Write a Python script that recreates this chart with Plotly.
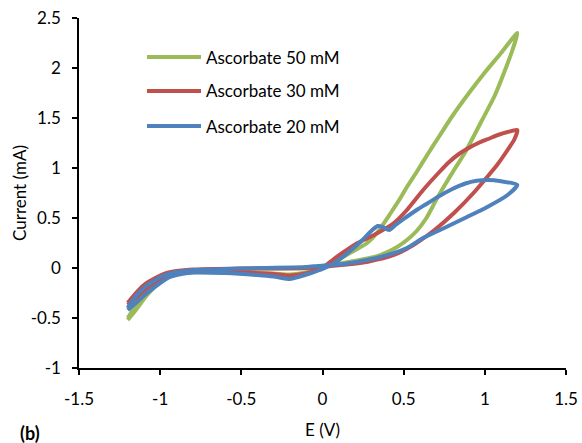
import plotly.graph_objects as go

# ---------------- data ----------------
names = ["Ascorbate 50 mM", "Ascorbate 30 mM", "Ascorbate 20 mM"]
colors = ["#9BBB59", "#C0504D", "#4F81BD"]

# Ascorbate 50 mM : closed loop (E in V, I in mA)
E_50 = [-1.2, -1.15, -1.08, -1.0, -0.93, -0.85, -0.7, -0.5, -0.3, -0.2, -0.12, -0.05, 0.0,
        0.07, 0.17, 0.275, 0.34, 0.42, 0.48, 0.52, 0.58, 0.645, 0.72, 0.8, 0.9, 1.0, 1.1, 1.2,
        1.17, 1.12, 1.06, 0.98, 0.88, 0.81, 0.75, 0.7, 0.64, 0.58, 0.52, 0.46, 0.4, 0.32, 0.17, 0.05,
        -0.1, -0.4, -0.7, -0.85, -0.93, -1.0, -1.07, -1.13, -1.2]
I_50 = [-0.52, -0.42, -0.27, -0.14, -0.07, -0.045, -0.04, -0.045, -0.055, -0.065, -0.05, -0.02, 0.0,
        0.06, 0.15, 0.25, 0.36, 0.55, 0.70, 0.81, 0.96, 1.13, 1.32, 1.52, 1.745, 1.955, 2.15, 2.35,
        2.18, 1.96, 1.72, 1.47, 1.16, 0.98, 0.82, 0.68, 0.5, 0.37, 0.28, 0.21, 0.16, 0.11, 0.063, 0.03,
        0.0, -0.005, -0.015, -0.03, -0.06, -0.13, -0.22, -0.33, -0.5]

# Ascorbate 30 mM
E_30 = [-1.2, -1.15, -1.08, -1.0, -0.93, -0.85, -0.7, -0.5, -0.3, -0.2, -0.12, -0.05, 0.0,
        0.07, 0.14, 0.21, 0.28, 0.34, 0.44, 0.52, 0.62, 0.72, 0.78, 0.84, 0.9, 0.96, 1.02, 1.08, 1.14, 1.2,
        1.18, 1.14, 1.08, 1.035, 0.93, 0.81, 0.69, 0.56, 0.44, 0.28, 0.15, 0.05,
        -0.1, -0.5, -0.8, -0.9, -0.96, -1.03, -1.1, -1.16, -1.2]
I_30 = [-0.37, -0.3, -0.2, -0.11, -0.06, -0.04, -0.035, -0.045, -0.06, -0.075, -0.06, -0.03, 0.0,
        0.09, 0.17, 0.245, 0.3, 0.35, 0.45, 0.58, 0.78, 0.96, 1.06, 1.14, 1.2, 1.25, 1.29, 1.33, 1.36, 1.38,
        1.28, 1.18, 1.04, 0.95, 0.75, 0.55, 0.38, 0.23, 0.13, 0.063, 0.035, 0.02,
        0.0, -0.005, -0.015, -0.03, -0.05, -0.1, -0.17, -0.27, -0.35]

# Ascorbate 20 mM
E_20 = [-1.2, -1.15, -1.08, -1.0, -0.94, -0.87, -0.79, -0.6, -0.4, -0.3, -0.2, -0.15, -0.07, 0.0, 0.05,
        0.1, 0.17, 0.24, 0.3, 0.34, 0.37, 0.41, 0.45, 0.5, 0.58, 0.65, 0.72, 0.8, 0.88, 0.95, 1.02, 1.1, 1.2,
        1.14, 1.015, 0.89, 0.75, 0.62, 0.52, 0.4, 0.275, 0.13, -0.03,
        -0.1, -0.38, -0.6, -0.79, -0.9, -0.97, -1.05, -1.1, -1.16, -1.2]
I_20 = [-0.42, -0.35, -0.25, -0.15, -0.09, -0.06, -0.045, -0.05, -0.07, -0.085, -0.11, -0.09, -0.05, -0.01, 0.03,
        0.08, 0.17, 0.27, 0.37, 0.42, 0.41, 0.38, 0.43, 0.49, 0.58, 0.65, 0.72, 0.79, 0.845, 0.872, 0.88, 0.868, 0.83,
        0.73, 0.61, 0.51, 0.4, 0.3, 0.2, 0.13, 0.08, 0.04, 0.02,
        0.01, 0.0, -0.01, -0.02, -0.04, -0.07, -0.14, -0.2, -0.3, -0.4]

x_ticks = [-1.5, -1, -0.5, 0, 0.5, 1, 1.5]
x_labels = ["-1.5", "-1", "-0.5", "0", "0.5", "1", "1.5"]
y_ticks = [-1, -0.5, 0, 0.5, 1, 1.5, 2, 2.5]
y_labels = ["-1", "-0.5", "0", "0.5", "1", "1.5", "2", "2.5"]

series = [(E_50, I_50), (E_30, I_30), (E_20, I_20)]

# ---------------- figure ----------------
FONT = "Lato"
fig = go.Figure()
for (ex, iy), name, col in zip(series, names, colors):
    fig.add_trace(go.Scatter(x=ex, y=iy, mode="lines", name=name,
                             line=dict(color=col, width=4, shape="spline", smoothing=0.6),
                             showlegend=False, hoverinfo="skip"))

W, H = 582, 443
L, R, T, B = 79, 16, 18, 75
pw, ph = W - L - R, H - T - B

def px(xp):
    return (xp - L) / pw

def py(yp):
    return (H - B - yp) / ph

# custom legend (line samples + real text)
shapes = []
annotations = []
rows = [57, 91, 126]
for name, col, yr in zip(names, colors, rows):
    shapes.append(dict(type="line", xref="paper", yref="paper",
                       x0=px(147), x1=px(201), y0=py(yr), y1=py(yr),
                       line=dict(color=col, width=4)))
    annotations.append(dict(xref="paper", yref="paper", x=px(204), y=py(yr),
                            text=name, showarrow=False, xanchor="left", yanchor="middle",
                            font=dict(family=FONT, size=17, color="#000")))

annotations.append(dict(xref="paper", yref="paper", x=px(18), y=py(433),
                        text="<b>(b)</b>", showarrow=False, xanchor="left", yanchor="middle",
                        font=dict(family=FONT, size=18, color="#000")))

axis_common = dict(showgrid=False, zeroline=False, showline=True, linecolor="#000", linewidth=1.5,
                   ticks="outside", ticklen=5, tickwidth=1.5, tickcolor="#000", automargin=False,
                   tickfont=dict(family=FONT, size=17, color="#000"))

fig.update_layout(
    width=W, height=H,
    margin=dict(l=L, r=R, t=T, b=B),
    paper_bgcolor="white", plot_bgcolor="white",
    showlegend=False,
    shapes=shapes, annotations=annotations,
    xaxis=dict(range=[-1.5, 1.5], tickvals=x_ticks, ticktext=x_labels,
               ticklabelstandoff=10,
               title=dict(text="E (V)", font=dict(family=FONT, size=17, color="#000"), standoff=16),
               **axis_common),
    yaxis=dict(range=[-1, 2.5], tickvals=y_ticks, ticktext=y_labels,
               ticklabelstandoff=8,
               title=dict(text="Current (mA)", font=dict(family=FONT, size=17, color="#000"), standoff=0),
               **axis_common),
)

fig.write_html("out.html")
